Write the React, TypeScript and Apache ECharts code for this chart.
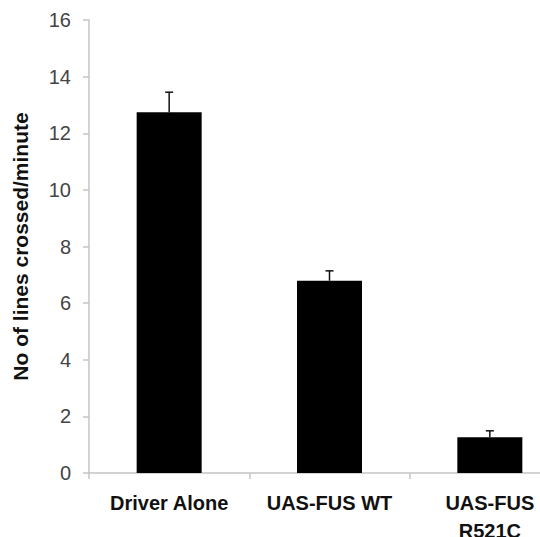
import React, { useEffect, useRef } from "react";
import * as echarts from "echarts";

const categories = ["Driver Alone", "UAS-FUS WT", "UAS-FUS\nR521C"];
const means = [12.74, 6.79, 1.26];
const errors = [0.71, 0.35, 0.23];
const yTicks = { min: 0, max: 16, interval: 2 };

export default function App() {
  const ref = useRef<HTMLDivElement>(null);
  useEffect(() => {
    const chart = echarts.init(ref.current!, undefined, { renderer: "svg" });
    const errData = means.map((m, i) => [i, m, m + errors[i]]);
    chart.setOption({
      animation: false,
      grid: { left: 89, top: 20, right: 0, height: 453, containLabel: false, outerBoundsMode: "none" },
      xAxis: {
        type: "category",
        data: categories,
        axisLine: { lineStyle: { color: "#c4c4c4", width: 1.5 } },
        axisTick: { show: true, length: 6, lineStyle: { color: "#c4c4c4", width: 1.5 } },
        axisLabel: {
          color: "#111",
          fontFamily: "Liberation Sans, Arial, sans-serif",
          fontWeight: "bold",
          fontSize: 20,
          margin: 16,
          lineHeight: 28,
          interval: 0,
        },
      },
      yAxis: {
        type: "value",
        min: yTicks.min,
        max: yTicks.max,
        interval: yTicks.interval,
        name: "No of lines crossed/minute",
        nameLocation: "middle",
        nameGap: 58,
        nameTextStyle: {
          color: "#111",
          fontFamily: "Liberation Sans, Arial, sans-serif",
          fontWeight: "bold",
          fontSize: 21,
        },
        axisLine: { show: true, lineStyle: { color: "#c4c4c4", width: 1.5 } },
        axisTick: { show: true, length: 6, lineStyle: { color: "#c4c4c4", width: 1.5 } },
        splitLine: { show: false },
        axisLabel: {
          color: "#444",
          fontFamily: "Liberation Sans, Arial, sans-serif",
          fontSize: 20,
          margin: 18,
        },
      },
      series: [
        {
          type: "bar",
          data: means,
          barWidth: 65,
          itemStyle: { color: "#000" },
        },
        {
          type: "custom",
          data: errData,
          z: 10,
          renderItem: (params: any, api: any) => {
            const x = api.value(0);
            const base = api.coord([x, api.value(1)]);
            const top = api.coord([x, api.value(2)]);
            const hw = 4;
            return {
              type: "group",
              children: [
                {
                  type: "line",
                  shape: { x1: base[0], y1: base[1], x2: top[0], y2: top[1] },
                  style: { stroke: "#111", lineWidth: 1.5 },
                },
                {
                  type: "line",
                  shape: { x1: top[0] - hw, y1: top[1], x2: top[0] + hw, y2: top[1] },
                  style: { stroke: "#111", lineWidth: 1.5 },
                },
              ],
            };
          },
        },
      ],
    });
    return () => chart.dispose();
  }, []);
  return (
    <div style={{ position: "absolute", left: 0, top: 0, width: 540, height: 537, overflow: "hidden", background: "#fff" }}>
      <div ref={ref} style={{ width: 570, height: 537 }} />
    </div>
  );
}
